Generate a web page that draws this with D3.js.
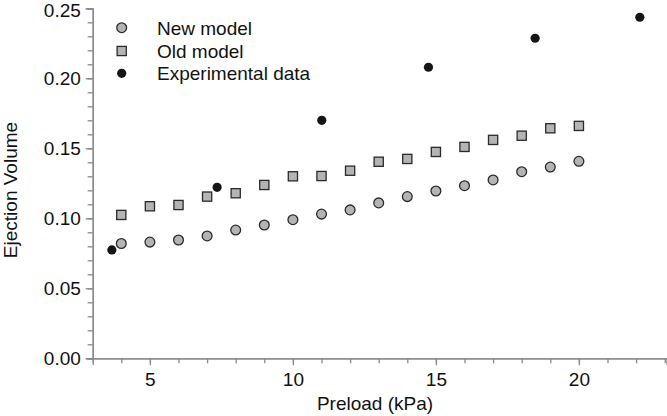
<!DOCTYPE html>
<html><head><meta charset="utf-8">
<script src="https://cdn.jsdelivr.net/npm/d3@7"></script>
<style>body{margin:0;background:#fff}svg{display:block}text{font-family:"Liberation Sans",Arial,sans-serif}</style>
</head><body><svg id="c" width="667" height="416"></svg>
<script>
const preload = [4,5,6,7,8,9,10,11,12,13,14,15,16,17,18,19,20];
const newModel = [0.082,0.083,0.0845,0.0874,0.0916,0.0952,0.099,0.103,0.106,0.111,0.1155,0.1195,0.1233,0.1274,0.1333,0.1366,0.1407];
const oldModel = [0.1024,0.1086,0.1095,0.1155,0.1179,0.1238,0.1300,0.1302,0.134,0.1404,0.1424,0.1474,0.151,0.156,0.159,0.1643,0.166];
const expX = [3.67,7.35,11.01,14.74,18.47,22.13];
const expY = [0.0774,0.1221,0.170,0.2079,0.2286,0.2436];
const xTicks = [5,10,15,20];
const yTicks = [0,0.05,0.10,0.15,0.20,0.25];
const legendLabels = ["New model","Old model","Experimental data"];

const svg = d3.select("#c");
const x = d3.scaleLinear().domain([3,23.07]).range([92.7,666.7]);
const y = d3.scaleLinear().domain([0,0.25]).range([358.3,8.3]);
const axisColor = "#8a8a8a";
const fs = 19;

const gx = svg.append("g").attr("transform","translate(0,358.3)");
gx.call(d3.axisBottom(x).tickValues(d3.range(4,24,1)).tickSize(5).tickFormat(""));
gx.append("g").call(d3.axisBottom(x).tickValues(xTicks).tickSize(7).tickFormat(d3.format("d")));
gx.selectAll("path.domain").attr("stroke",axisColor).attr("stroke-width",1.3);
gx.selectAll("line").attr("stroke",axisColor).attr("stroke-width",1.3);
gx.selectAll("text").attr("fill","#111").attr("font-size",fs).attr("dy","0.95em");

const gy = svg.append("g").attr("transform","translate(92.7,0)");
gy.call(d3.axisLeft(y).tickValues(d3.range(0,0.2501,0.01)).tickSize(5).tickFormat(""));
gy.append("g").call(d3.axisLeft(y).tickValues(yTicks).tickSize(7).tickFormat(d3.format(".2f")));
gy.selectAll("path.domain").attr("stroke",axisColor).attr("stroke-width",1.3);
gy.selectAll("line").attr("stroke",axisColor).attr("stroke-width",1.3);
gy.selectAll("text").attr("fill","#111").attr("font-size",fs).attr("dx","-0.1em");
gy.selectAll(".tick text").filter(d=>d===0.25).attr("y",2.5);

svg.append("text").attr("x",375).attr("y",410).attr("text-anchor","middle").attr("font-size",fs).attr("fill","#111").text("Preload (kPa)");
svg.append("text").attr("transform","translate(16.5,190) rotate(-90)").attr("text-anchor","middle").attr("font-size",fs).attr("fill","#111").text("Ejection Volume");

const fillGray = "#b4b4b4", strokeDark = "#2a2a2a";
svg.append("g").selectAll("rect").data(preload).join("rect")
  .attr("x",(d)=>x(d)-4.6).attr("y",(d,i)=>y(oldModel[i])-4.6).attr("width",9.2).attr("height",9.2)
  .attr("fill",fillGray).attr("stroke",strokeDark).attr("stroke-width",1.3);
svg.append("g").selectAll("circle").data(preload).join("circle")
  .attr("cx",(d)=>x(d)).attr("cy",(d,i)=>y(newModel[i])).attr("r",4.9)
  .attr("fill",fillGray).attr("stroke",strokeDark).attr("stroke-width",1.3);
svg.append("g").selectAll("circle").data(expX).join("circle")
  .attr("cx",(d)=>x(d)).attr("cy",(d,i)=>y(expY[i])).attr("r",4.6).attr("fill","#151515");

const lg = svg.append("g");
const ly = [27.7,51,73.3];
lg.append("circle").attr("cx",121.7).attr("cy",ly[0]).attr("r",4.9).attr("fill",fillGray).attr("stroke",strokeDark).attr("stroke-width",1.3);
lg.append("rect").attr("x",121.7-4.6).attr("y",ly[1]-4.6).attr("width",9.2).attr("height",9.2).attr("fill",fillGray).attr("stroke",strokeDark).attr("stroke-width",1.3);
lg.append("circle").attr("cx",121.7).attr("cy",ly[2]).attr("r",4.6).attr("fill","#151515");
lg.selectAll("text").data(legendLabels).join("text").attr("x",157).attr("y",(d,i)=>ly[i]).attr("dy","0.36em")
  .attr("font-size",fs).attr("fill","#111").text(d=>d);
</script></body></html>
